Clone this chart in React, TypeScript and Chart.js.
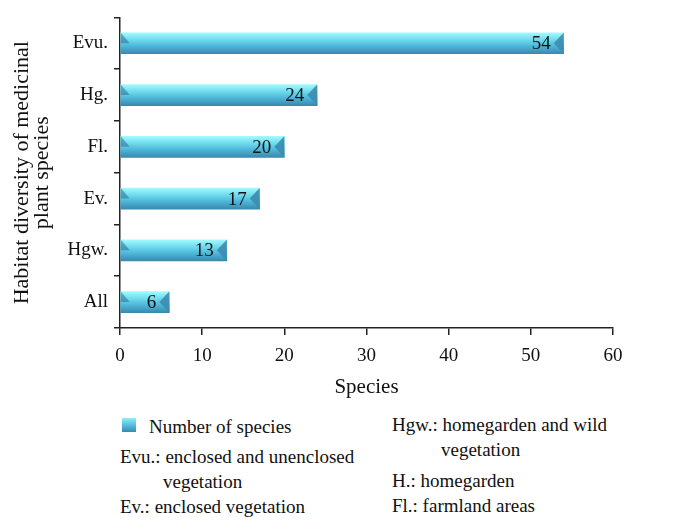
import React, { useEffect, useRef } from "react";
import { Chart, registerables } from "chart.js";

Chart.register(...registerables);

const categories = ["Evu.", "Hg.", "Fl.", "Ev.", "Hgw.", "All"];
const speciesCounts = [54, 24, 20, 17, 13, 6];
const xMin = 0;
const xMax = 60;
const xStep = 10;
const seriesName = "Number of species";
const yTitle = ["Habitat diversity of medicinal", "plant species"];
const xTitle = "Species";
const legendLeft = [
  { text: "Evu.: enclosed and unenclosed", indent: false },
  { text: "vegetation", indent: true },
  { text: "Ev.: enclosed vegetation", indent: false },
];
const legendRight = [
  { text: "Hgw.: homegarden and wild", indent: false },
  { text: "vegetation", indent: true },
  { text: "H.: homegarden", indent: false },
  { text: "Fl.: farmland areas", indent: false },
];

const FONT = "'Liberation Serif', 'DejaVu Serif', serif";

const barGradient = (c: CanvasRenderingContext2D, y0: number, y1: number) => {
  const g = c.createLinearGradient(0, y0, 0, y1);
  g.addColorStop(0, "#a2fafc");
  g.addColorStop(0.3, "#73def0");
  g.addColorStop(0.65, "#4cb5d8");
  g.addColorStop(1, "#3a89ad");
  return g;
};

const labelPlugin = {
  id: "barLabels",
  afterDatasetsDraw(chart: any) {
    const c = chart.ctx;
    const meta = chart.getDatasetMeta(0);
    c.save();
    meta.data.forEach((bar: any, i: number) => {
      const h = bar.height;
      const top = bar.y - h / 2;
      const bot = bar.y + h / 2;
      c.fillStyle = "rgba(40,110,150,0.55)";
      c.beginPath();
      c.moveTo(bar.base, top);
      c.lineTo(bar.base + 9, bar.y);
      c.lineTo(bar.base, bar.y);
      c.closePath();
      c.fill();
      c.fillStyle = "rgba(60,140,175,0.9)";
      c.beginPath();
      c.moveTo(bar.x, top);
      c.lineTo(bar.x - 10, bar.y);
      c.lineTo(bar.x, bot);
      c.closePath();
      c.fill();
      c.fillStyle = "#111";
      c.font = `19px ${FONT}`;
      c.textAlign = "right";
      c.textBaseline = "middle";
      c.fillText(String(speciesCounts[i]), bar.x - 13, bar.y + 1);
    });
    c.restore();
  },
};

export default function App() {
  const ref = useRef<HTMLCanvasElement>(null);
  useEffect(() => {
    if (!ref.current) return;
    const chart = new Chart(ref.current, {
      type: "bar",
      data: {
        labels: categories,
        datasets: [
          {
            label: seriesName,
            data: speciesCounts,
            barThickness: 21,
            borderWidth: 0,
            backgroundColor: (ctx: any) => {
              const ch = ctx.chart;
              const ys = ch.scales && ch.scales.y;
              if (!ys || ctx.dataIndex === undefined) return "#5cc9e6";
              const yc = ys.getPixelForValue(ctx.dataIndex);
              if (!isFinite(yc)) return "#5cc9e6";
              return barGradient(ch.ctx, yc - 10.5, yc + 10.5);
            },
          },
        ],
      },
      options: {
        indexAxis: "y",
        animation: false,
        responsive: false,
        maintainAspectRatio: false,
        layout: { padding: { left: 0, top: 15, right: 73, bottom: 0 } },
        plugins: {
          legend: { display: false },
          tooltip: { enabled: false },
        },
        scales: {
          x: {
            min: xMin,
            max: xMax,
            ticks: {
              stepSize: xStep,
              color: "#111",
              font: { family: FONT, size: 19 },
              padding: 10,
            },
            grid: {
              drawOnChartArea: false,
              drawTicks: true,
              tickLength: 7,
              color: "#222",
              lineWidth: 1.5,
            },
            border: { color: "#222", width: 1.5 },
            title: {
              display: true,
              text: xTitle,
              color: "#111",
              font: { family: FONT, size: 21 },
              padding: { top: 2, bottom: 0 },
            },
            afterFit: (s: any) => {
              s.height = 72;
            },
          },
          y: {
            ticks: {
              color: "#111",
              font: { family: FONT, size: 19 },
              padding: 6,
            },
            grid: {
              offset: true,
              drawOnChartArea: false,
              drawTicks: true,
              tickLength: 6,
              color: "#222",
              lineWidth: 1.5,
            },
            border: { color: "#222", width: 1.5 },
            title: {
              display: true,
              text: yTitle,
              color: "#111",
              font: { family: FONT, size: 22, lineHeight: 0.92 },
              padding: { top: 12, bottom: 0 },
            },
            afterFit: (s: any) => {
              s.width = 120;
            },
          },
        },
      },
      plugins: [labelPlugin],
    } as any);
    return () => chart.destroy();
  }, []);

  const lineStyle = (top: number, left: number): React.CSSProperties => ({
    position: "absolute",
    top,
    left,
    whiteSpace: "nowrap",
    fontFamily: FONT,
    fontSize: 19,
    lineHeight: "22px",
    color: "#111",
  });

  return (
    <div style={{ position: "absolute", left: 0, top: 0, width: 686, height: 531, background: "#fff" }}>
      <canvas ref={ref} width={686} height={400} style={{ position: "absolute", left: 0, top: 0 }} />
      <div
        style={{
          position: "absolute",
          left: 122,
          top: 418,
          width: 14,
          height: 14,
          background: "linear-gradient(#8feef8, #4cb5d8 60%, #3a89ad)",
        }}
      />
      <div style={lineStyle(416, 149)}>{seriesName}</div>
      {legendLeft.map((l, i) => (
        <div key={"l" + i} style={lineStyle(446 + i * 25, l.indent ? 163 : 120)}>
          {l.text}
        </div>
      ))}
      {legendRight.map((l, i) => (
        <div key={"r" + i} style={lineStyle(414 + i * 25 + (i >= 2 ? 6 : 0), l.indent ? 441 : 392)}>
          {l.text}
        </div>
      ))}
    </div>
  );
}
